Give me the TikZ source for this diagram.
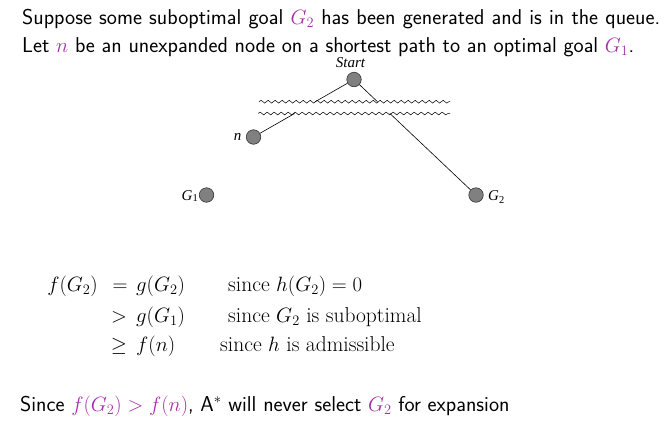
\documentclass[tikz,border=0pt]{standalone}
\usepackage{fontspec}
\usetikzlibrary{decorations.pathmorphing}
\newfontfamily\timesf{Liberation Serif}
\definecolor{mag}{RGB}{165,45,170}
\definecolor{nodegray}{RGB}{128,128,128}
\tikzset{
  txt/.style={anchor=base west, inner sep=0pt, font=\fontsize{21.5}{24}\selectfont\sffamily},
  eq/.style={inner sep=0pt, font=\fontsize{21.5}{24}\selectfont},
  lab/.style={inner sep=0pt, font=\fontsize{15}{16}\selectfont\timesf},
  dot/.style={circle, draw=black!80, line width=0.6pt, fill=nodegray, minimum size=14.5pt, inner sep=0pt},
  wave/.style={decorate, decoration={snake, segment length=7pt, amplitude=1.4pt}, line width=0.5pt},
  edge/.style={line width=0.6pt}
}
\newcommand{\mm}[1]{\textcolor{mag}{$#1$}}
\newcommand{\subsz}{\fontsize{10.5}{11}\selectfont\upshape}
\begin{document}
\begin{tikzpicture}[x=1pt,y=-1pt]
\useasboundingbox (0,0) rectangle (668,426);
% top text
\node[txt] (l1) at (22,24.4) {\makebox[638pt][s]{\spaceskip=5.2pt plus 3pt minus 3pt Suppose some suboptimal goal \mm{G_2} has been generated and is in the queue.}};
\node[txt] (l2) at (22,52) {Let \mm{n} be an unexpanded node on a shortest path to an optimal goal \mm{G_1}.};
% diagram
\node[dot] (start) at (354,79.5) {};
\node[dot] (n) at (253.5,137) {};
\node[dot] (g1) at (206.5,195) {};
\node[dot] (g2) at (476,195) {};
\node[lab, anchor=base] (startl) at (350.5,67) {\itshape Start};
\node[lab, anchor=base east] (nl) at (241.5,140) {\itshape n};
\node[lab, anchor=base east] (g1l) at (198,200) {\itshape G\raisebox{-0.25ex}{\subsz 1}};
\node[lab, anchor=base west] (g2l) at (488,200) {\itshape G\raisebox{-0.55ex}{\subsz 2}};
% wavy lines
\coordinate (wa1) at (259,101.7);
\coordinate (wa2) at (450,101.7);
\coordinate (wb1) at (258,113.5);
\coordinate (wb2) at (450,113.5);
\draw[wave] (wa1) -- (wa2);
\draw[wave] (wb1) -- (wb2);
% edges, interrupted by the wavy lines
\path (start.center) -- (n.center) coordinate[pos=0.386] (la) coordinate[pos=0.591] (lb);
\path (start.center) -- (g2.center) coordinate[pos=0.192] (ra) coordinate[pos=0.294] (rb);
\draw[edge] (start) -- (la);
\draw[edge] (lb) -- (n);
\draw[edge] (start) -- (ra);
\draw[edge] (rb) -- (g2);
% equations
\node[eq, anchor=base east] (e1l) at (98,291) {$f(G_2)$};
\node[eq, anchor=base] (e1r) at (120,291) {$=$};
\node[eq, anchor=base west] (e1v) at (136,291) {$g(G_2)$};
\node[eq, anchor=base west] (e1t) at (228,291) {since $h(G_2)=0$};
\node[eq, anchor=base] (e2r) at (119,322) {$>$};
\node[eq, anchor=base west] (e2v) at (136,322) {$g(G_1)$};
\node[eq, anchor=base west] (e2t) at (228,322) {since $G_2$ is suboptimal};
\node[eq, anchor=base] (e3r) at (119,351) {$\geq$};
\node[eq, anchor=base west] (e3v) at (136,351) {$f(n)$};
\node[eq, anchor=base west] (e3t) at (220,351) {since $h$ is admissible};
% bottom text
\node[txt] (l3) at (20,411) {Since \mm{f(G_2)>f(n)}, A$^*$ will never select \mm{G_2} for expansion};
\end{tikzpicture}
\end{document}
